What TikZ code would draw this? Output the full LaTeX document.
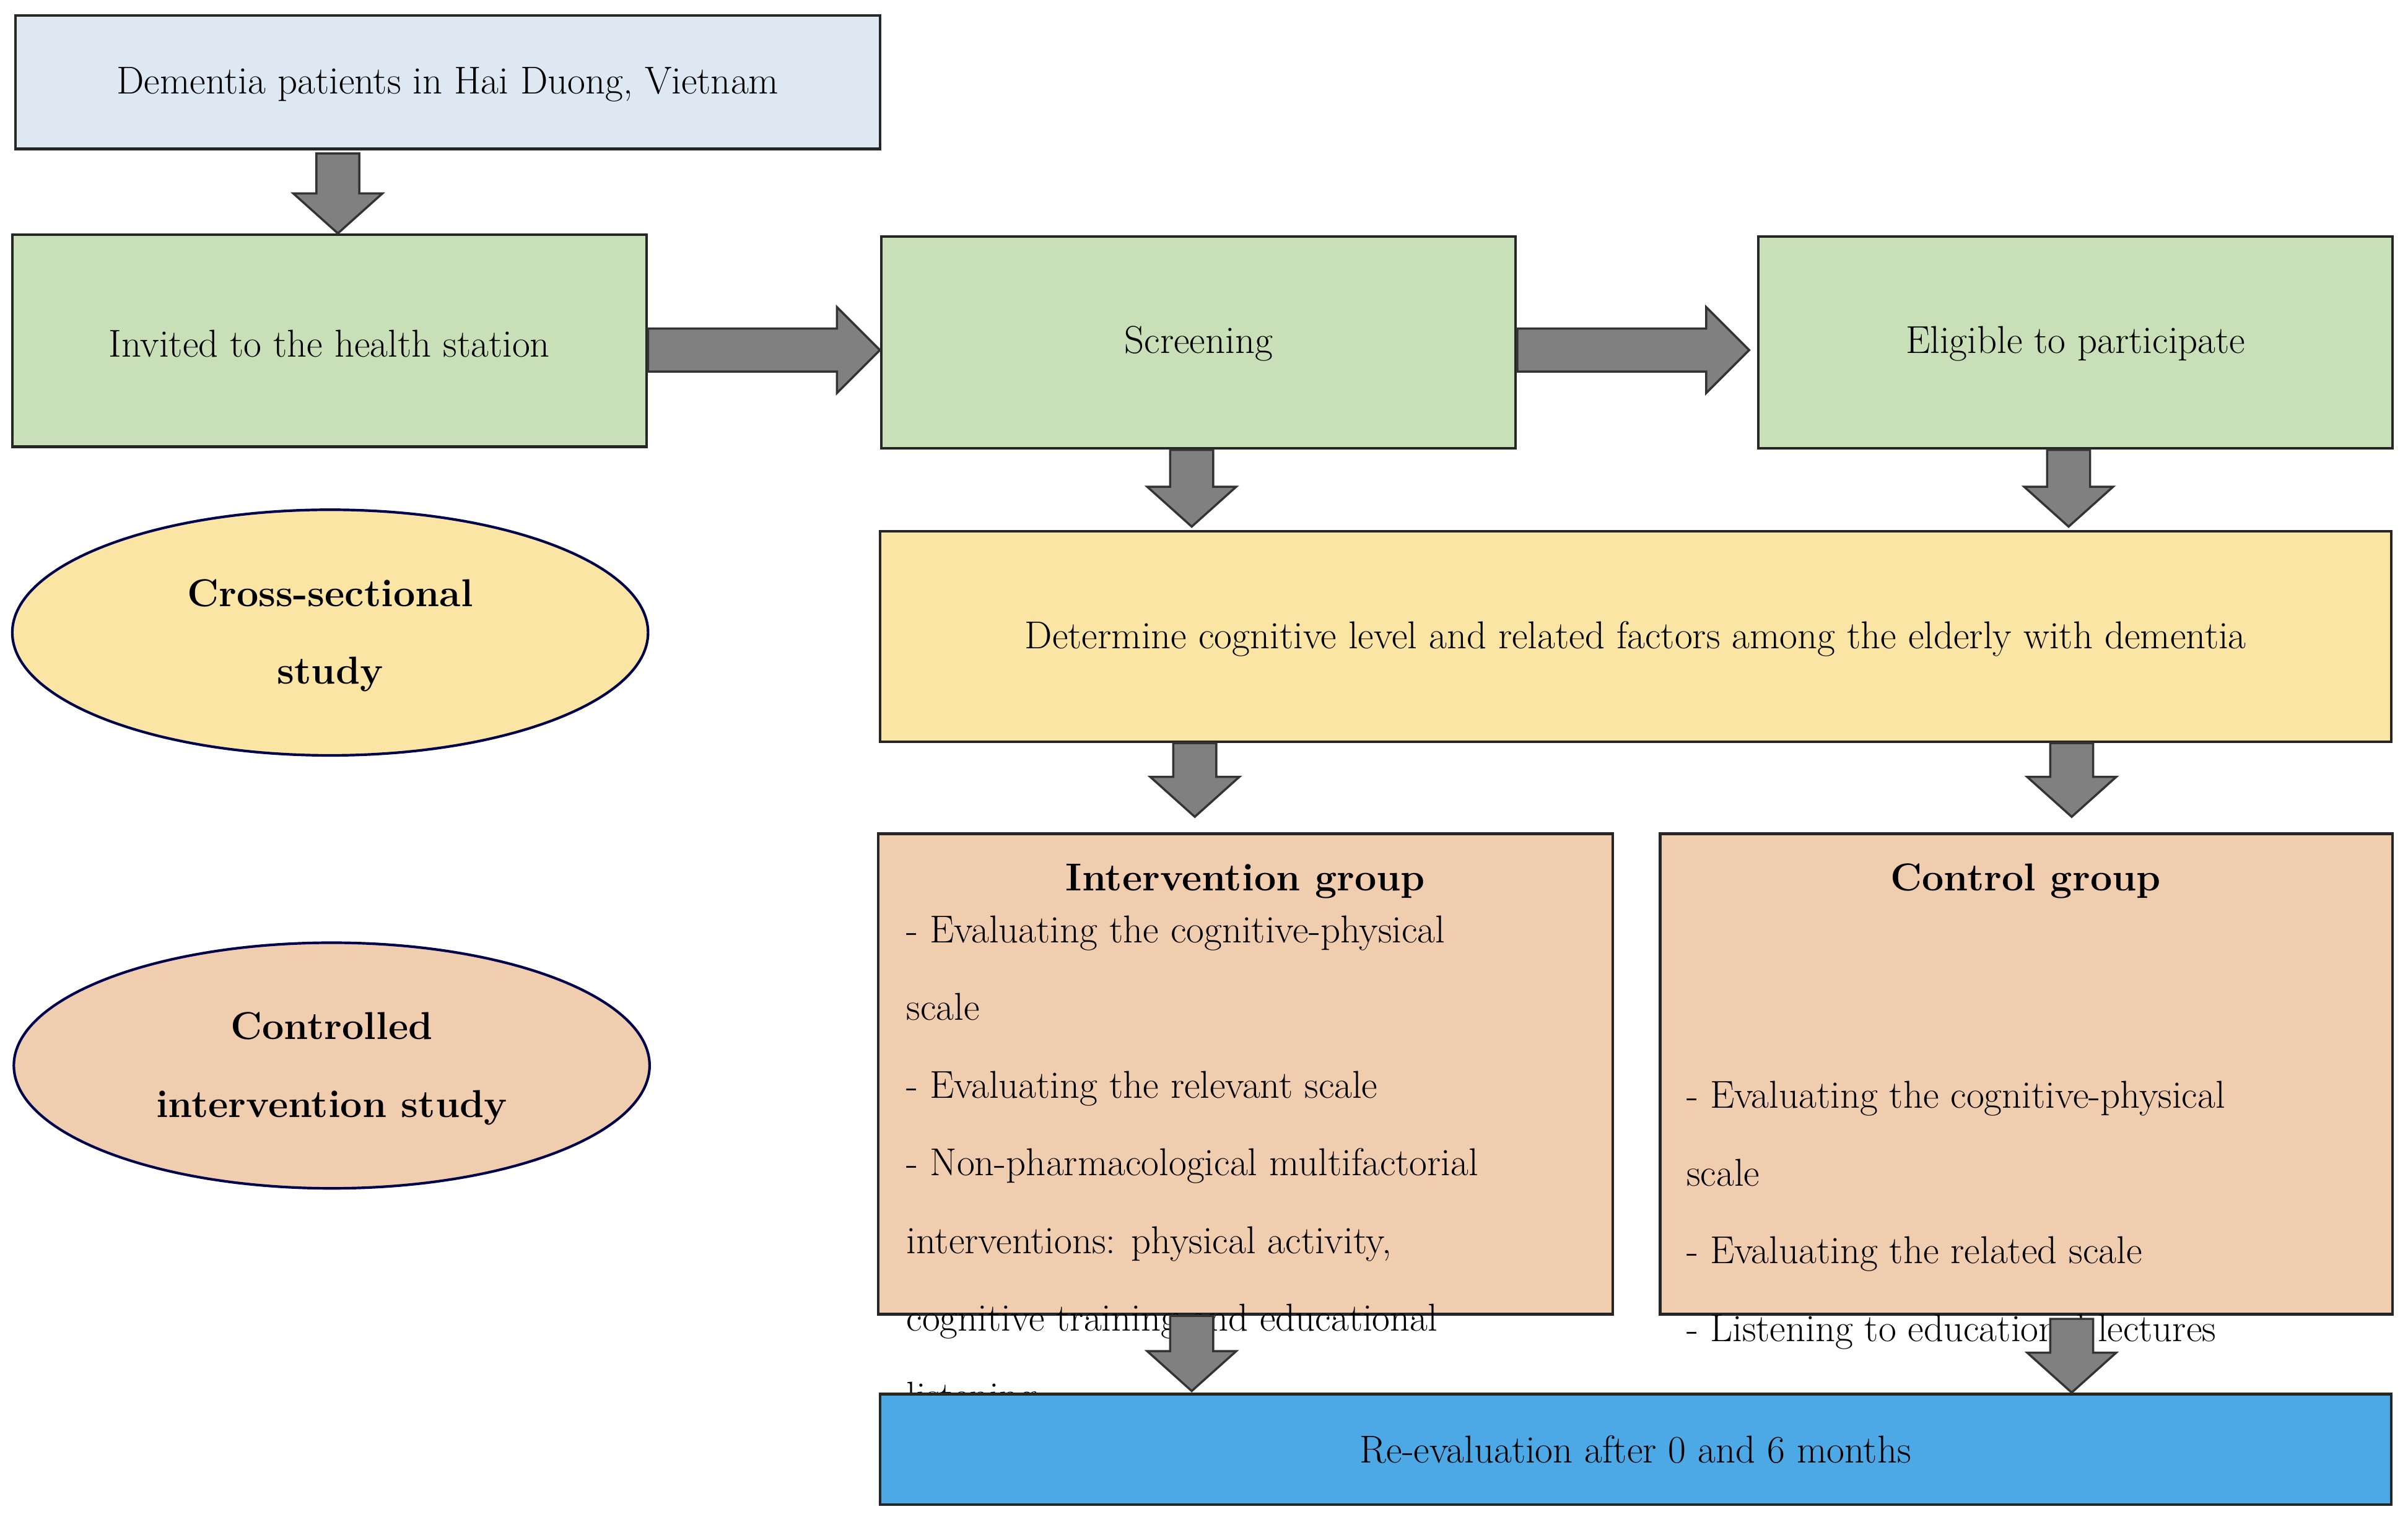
\documentclass[tikz,border=0pt]{standalone}
\usepackage{fontspec}
\setmainfont{Latin Modern Roman}
\begin{document}
\begin{tikzpicture}[x=0.025cm,y=-0.025cm,
  box/.style={draw=black!85,line width=1.2pt},
  txt/.style={font=\fontsize{18}{25.5}\selectfont,inner sep=0pt},
  arr/.style={fill=black!50,draw=black!80,line width=1pt,line join=miter}]
\definecolor{cblue}{HTML}{DDE8F3}
\definecolor{cgreen}{HTML}{C9DFB8}
\definecolor{cyellow}{HTML}{FAE5A5}
\definecolor{cpeach}{HTML}{F1CDB0}
\definecolor{cdeep}{HTML}{4DA9E6}
\useasboundingbox (0,0) rectangle (1568,988);
\newcommand\darr[3]{\draw[arr] (#1-14,#2) -- (#1+14,#2) -- (#1+14,#3-26) -- (#1+29,#3-26) -- (#1,#3) -- (#1-29,#3-26) -- (#1-14,#3-26) -- cycle;}
\newcommand\rarr[3]{\draw[arr] (#1,#3-14) -- (#2-28,#3-14) -- (#2-28,#3-28) -- (#2,#3) -- (#2-28,#3+28) -- (#2-28,#3+14) -- (#1,#3+14) -- cycle;}
% boxes
\draw[box,fill=cblue] (10,10) rectangle (573,97);
\node[txt] (top) at (291.5,55) {Dementia patients in Hai Duong, Vietnam};
\draw[box,fill=cgreen] (8,153) rectangle (421,291);
\node[txt] (inv) at (214.5,224) {Invited to the health station};
\draw[box,fill=cgreen] (574,154) rectangle (987,292);
\node[txt] (scr) at (780.5,224) {Screening};
\draw[box,fill=cgreen] (1145,154) rectangle (1558,292);
\node[txt] (eli) at (1351.5,224) {Eligible to participate};
\draw[box,fill=cyellow] (573,346) rectangle (1557,483);
\node[txt] (det) at (1065,416) {Determine cognitive level and related factors among the elderly with dementia};
\draw[box,fill=cyellow,draw=black!70!blue] (215,412) ellipse [x radius=207,y radius=80];
\node[txt,font=\bfseries\fontsize{18}{36}\selectfont,align=center] (cs) at (215,414) {Cross-sectional\\study};
\draw[box,fill=cpeach,draw=black!70!blue] (216,694) ellipse [x radius=207,y radius=80];
\node[txt,font=\bfseries\fontsize{18}{36}\selectfont,align=center] (ci) at (216,696) {Controlled\\intervention study};
\draw[box,fill=cpeach] (572,543) rectangle (1050,856);
\node[txt,font=\bfseries\fontsize{18}{25.5}\selectfont] (ig) at (811,574) {Intervention group};
\node[txt,anchor=north west,align=left,font=\fontsize{18}{36}\selectfont] (igt) at (590,596) {- Evaluating the cognitive-physical\\scale\\- Evaluating the relevant scale\\- Non-pharmacological multifactorial\\interventions: physical activity,\\cognitive training and educational\\listening};
\draw[box,fill=cpeach] (1081,543) rectangle (1558,856);
\node[txt,font=\bfseries\fontsize{18}{25.5}\selectfont] (cg) at (1319,574) {Control group};
\node[txt,anchor=north west,align=left,font=\fontsize{18}{36}\selectfont] (cgt) at (1098,704) {- Evaluating the cognitive-physical\\scale\\- Evaluating the related scale\\- Listening to educational lectures};
\draw[box,fill=cdeep] (573,908) rectangle (1557,980);
\node[txt] (re) at (1065,944) {Re-evaluation after 0 and 6 months};
% arrows
\darr{220}{100}{152}
\rarr{422}{573}{228}
\rarr{988}{1139}{228}
\darr{776}{293}{343}
\darr{1347}{293}{343}
\darr{778}{484}{532}
\darr{1349}{484}{532}
\darr{776}{857}{906}
\darr{1349}{859}{907}
\end{tikzpicture}
\end{document}
